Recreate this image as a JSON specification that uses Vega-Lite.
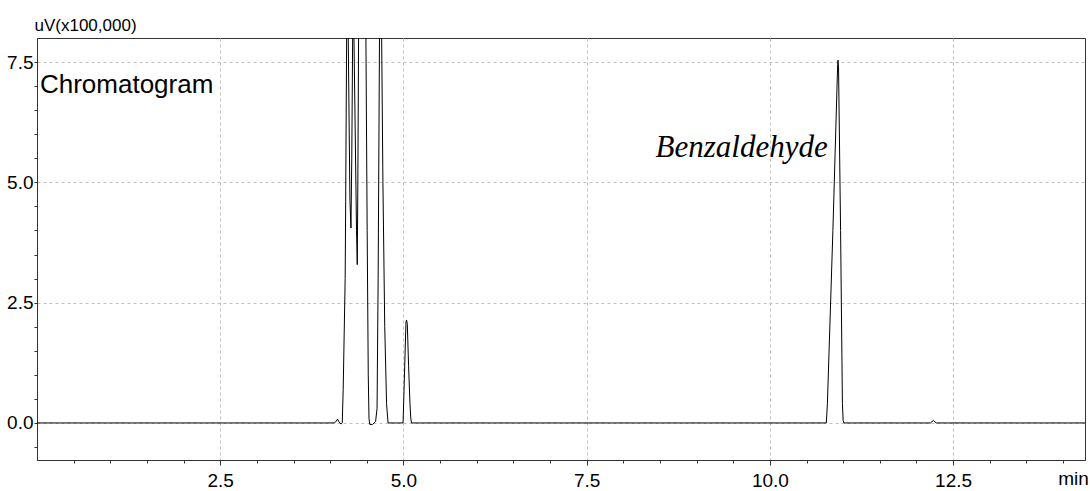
{
  "$schema": "https://vega.github.io/schema/vega-lite/v6.json",
  "width": 1048,
  "height": 422,
  "autosize": {"type": "none"},
  "padding": {"left": 37, "top": 38, "right": 5, "bottom": 31},
  "background": "white",
  "config": {
    "view": {"stroke": "#333", "strokeWidth": 1},
    "font": "Liberation Sans"
  },
  "datasets": {
    "trace": [
      {"t": 0, "v": 0}, {"t": 4.06, "v": 0}, {"t": 4.085, "v": 0.04}, {"t": 4.1, "v": 0.08}, {"t": 4.115, "v": 0.04},
      {"t": 4.13, "v": 0}, {"t": 4.15, "v": -0.02}, {"t": 4.165, "v": 0}, {"t": 4.178, "v": 0.7}, {"t": 4.205, "v": 3.0},
      {"t": 4.212, "v": 4.6}, {"t": 4.225, "v": 8}, {"t": 4.235, "v": 10}, {"t": 4.247, "v": 8}, {"t": 4.27, "v": 4.63},
      {"t": 4.284, "v": 4.05}, {"t": 4.295, "v": 5.5}, {"t": 4.307, "v": 8}, {"t": 4.315, "v": 10}, {"t": 4.325, "v": 8},
      {"t": 4.36, "v": 4.0}, {"t": 4.37, "v": 3.29}, {"t": 4.378, "v": 5}, {"t": 4.388, "v": 8}, {"t": 4.4, "v": 10},
      {"t": 4.475, "v": 10}, {"t": 4.488, "v": 8}, {"t": 4.505, "v": 4}, {"t": 4.52, "v": 1}, {"t": 4.53, "v": 0.1},
      {"t": 4.54, "v": -0.03}, {"t": 4.58, "v": -0.03}, {"t": 4.62, "v": 0.03}, {"t": 4.64, "v": 0.3}, {"t": 4.655, "v": 3},
      {"t": 4.675, "v": 8.5}, {"t": 4.69, "v": 10}, {"t": 4.7, "v": 8.5}, {"t": 4.72, "v": 5}, {"t": 4.745, "v": 2},
      {"t": 4.77, "v": 0.4}, {"t": 4.79, "v": 0}, {"t": 4.995, "v": 0}, {"t": 5.035, "v": 2.1}, {"t": 5.043, "v": 2.14},
      {"t": 5.053, "v": 2.05}, {"t": 5.07, "v": 1.2}, {"t": 5.089, "v": 0.4}, {"t": 5.1, "v": 0.1}, {"t": 5.11, "v": 0},
      {"t": 10.77, "v": 0}, {"t": 10.785, "v": 0.4}, {"t": 10.86, "v": 4.0}, {"t": 10.925, "v": 7.45}, {"t": 10.93, "v": 7.54},
      {"t": 10.937, "v": 7.4}, {"t": 10.965, "v": 4.0}, {"t": 10.99, "v": 0.4}, {"t": 11.0, "v": 0.05}, {"t": 11.01, "v": 0},
      {"t": 12.19, "v": 0}, {"t": 12.23, "v": 0.05}, {"t": 12.27, "v": 0}, {"t": 14.3, "v": 0}
    ],
    "title": [{"t": 0.04, "v": 6.85, "label": "Chromatogram"}],
    "peak": [{"t": 10.79, "v": 5.53, "label": "Benzaldehyde"}]
  },
  "layer": [
    {
      "data": {"name": "trace"},
      "mark": {"type": "line", "color": "#000", "strokeWidth": 1, "clip": true},
      "encoding": {
        "x": {
          "field": "t", "type": "quantitative",
          "scale": {"domain": [0, 14.3], "nice": false, "zero": false},
          "axis": {
            "title": null,
            "tickCount": 200,
            "values": [0.5, 1, 1.5, 2, 2.5, 3, 3.5, 4, 4.5, 5, 5.5, 6, 6.5, 7, 7.5, 8, 8.5, 9, 9.5, 10, 10.5, 11, 11.5, 12, 12.5, 13, 13.5, 14],
            "labelExpr": "datum.value == 14 ? 'min' : (datum.value % 2.5 == 0 ? format(datum.value, '.1f') : '')",
            "labelAlign": "center",
            "labelOffset": {"condition": {"test": "datum.value == 14", "value": 10}, "value": 0},
            "labelFont": "Liberation Sans",
            "labelFontSize": 19,
            "labelColor": "#000",
            "labelPadding": 6,
            "labelFlush": false,
            "labelOverlap": false,
            "grid": true,
            "gridOpacity": {"condition": {"test": "datum.value % 2.5 == 0", "value": 1}, "value": 0},
            "gridDash": [3, 3],
            "gridColor": "#c0c0c0",
            "tickColor": "#333",
            "tickSize": {"condition": {"test": "datum.value % 2.5 == 0", "value": 5}, "value": 3},
            "domainColor": "#333"
          }
        },
        "y": {
          "field": "v", "type": "quantitative",
          "scale": {"domain": [-0.77, 8.0], "nice": false, "zero": false},
          "axis": {
            "title": "uV(x100,000)",
            "titleAngle": 0,
            "titleX": -3,
            "titleY": -4,
            "titleAlign": "left",
            "titleBaseline": "bottom",
            "titleFont": "Liberation Sans",
            "titleFontSize": 17,
            "titleFontWeight": "normal",
            "titleColor": "#000",
            "tickCount": 200,
            "values": [-0.5, 0, 0.5, 1, 1.5, 2, 2.5, 3, 3.5, 4, 4.5, 5, 5.5, 6, 6.5, 7, 7.5],
            "labelExpr": "datum.value % 2.5 == 0 ? format(datum.value, '.1f') : ''",
            "labelFont": "Liberation Sans",
            "labelFontSize": 19,
            "labelColor": "#000",
            "labelPadding": 1,
            "labelOverlap": false,
            "grid": true,
            "gridOpacity": {"condition": {"test": "datum.value % 2.5 == 0", "value": 1}, "value": 0},
            "gridDash": [3, 3],
            "gridColor": "#c0c0c0",
            "tickColor": "#333",
            "tickSize": 3,
            "domainColor": "#333"
          }
        }
      }
    },
    {
      "data": {"name": "title"},
      "mark": {"type": "text", "align": "left", "baseline": "alphabetic", "fontSize": 26, "font": "Liberation Sans", "color": "#000"},
      "encoding": {
        "x": {"field": "t", "type": "quantitative"},
        "y": {"field": "v", "type": "quantitative"},
        "text": {"field": "label"}
      }
    },
    {
      "data": {"name": "peak"},
      "mark": {"type": "text", "align": "right", "baseline": "alphabetic", "fontSize": 31, "font": "Liberation Serif", "fontStyle": "italic", "color": "#000"},
      "encoding": {
        "x": {"field": "t", "type": "quantitative"},
        "y": {"field": "v", "type": "quantitative"},
        "text": {"field": "label"}
      }
    }
  ]
}
